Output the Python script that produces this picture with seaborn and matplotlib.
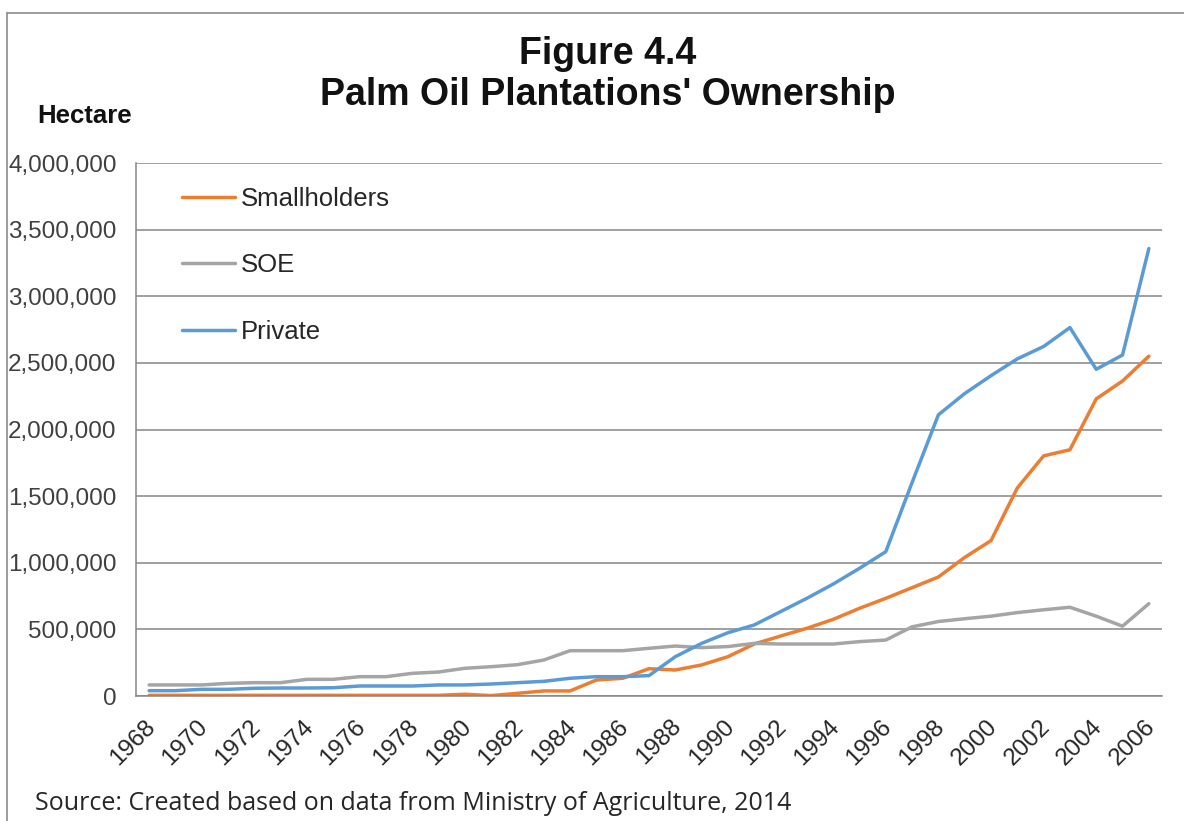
import matplotlib
matplotlib.use("Agg")
import matplotlib.pyplot as plt
import matplotlib.ticker as mticker
import matplotlib.transforms as mtransforms
from matplotlib.lines import Line2D
import seaborn as sns
import pandas as pd

# data (hectare)
years = list(range(1968, 2007))
smallholders = [5000, 5000, 5000, 5000, 5000, 5000, 5000, 5000, 5000, 5000,
                5000, 5000, 13000, 3000, 20000, 38000, 38000, 120000, 133000, 205000,
                195000, 233000, 295000, 390000, 450000, 508000, 575000, 658000, 733000, 813000,
                893000, 1040000, 1166000, 1561000, 1802000, 1848000, 2230000, 2364000, 2550000]
soe = [83000, 83000, 83000, 95000, 100000, 100000, 125000, 125000, 145000, 145000,
       170000, 180000, 208000, 220000, 235000, 270000, 340000, 340000, 340000, 358000,
       375000, 363000, 371000, 395000, 390000, 390000, 390000, 408000, 420000, 519000,
       559000, 580000, 599000, 626000, 647000, 666000, 599000, 524000, 693000]
private = [40000, 40000, 50000, 50000, 58000, 60000, 60000, 62000, 75000, 75000,
           75000, 83000, 83000, 90000, 100000, 110000, 133000, 145000, 145000, 153000,
           295000, 395000, 475000, 533000, 633000, 733000, 840000, 958000, 1083000, 1602000,
           2110000, 2270000, 2404000, 2530000, 2623000, 2765000, 2452000, 2559000, 3358000]

series_names = ["Smallholders", "SOE", "Private"]
series_colors = ["#ED7D31", "#A5A5A5", "#5B9BD5"]

rows = []
for name, vals in zip(series_names, [smallholders, soe, private]):
    for i, (yr, v) in enumerate(zip(years, vals)):
        rows.append({"idx": i, "year": yr, "owner": name, "hectare": v})
df = pd.DataFrame(rows)

sns.set_style("white")
plt.rcParams["font.family"] = ["Liberation Sans", "DejaVu Sans"]

fig = plt.figure(figsize=(11.84, 8.21), dpi=100)
ax = fig.add_axes([136 / 1184, 1 - 696 / 821, 1026 / 1184, 533 / 821])

sns.lineplot(data=df, x="idx", y="hectare", hue="owner", hue_order=series_names,
             palette=series_colors, linewidth=2.5, ax=ax)

ax.set_xlim(-0.5, len(years) - 0.5)
ax.set_ylim(0, 4000000)
ax.yaxis.set_major_locator(mticker.MultipleLocator(500000))
ax.yaxis.set_major_formatter(mticker.FuncFormatter(lambda v, p: f"{int(v):,}"))
ax.grid(axis="y", color="#868686", linewidth=1.1)
ax.set_axisbelow(True)

# category ticks between years, labels every second year
ax.set_xticks([i + 0.5 for i in range(-1, len(years))], minor=True)
ax.set_xticks(list(range(0, len(years), 2)))
ax.set_xticklabels([str(y) for y in years[::2]], rotation=45, ha="right",
                   va="top", rotation_mode="anchor")
ax.tick_params(axis="x", which="major", length=0, labelsize=17.5, labelcolor="#262626", pad=14)
ax.tick_params(axis="x", which="minor", length=7, width=1, color="#868686", direction="out")
ax.tick_params(axis="y", length=6, width=1, color="#868686", direction="out",
               labelsize=17.5, labelcolor="#404040", pad=8)
shift = mtransforms.ScaledTranslation(-5 / 100, 0, fig.dpi_scale_trans)
for lbl in ax.get_xticklabels():
    lbl.set_transform(lbl.get_transform() + shift)

for side in ["top", "right"]:
    ax.spines[side].set_visible(False)
ax.spines["left"].set_color("#868686")
ax.spines["bottom"].set_color("#868686")
ax.spines["left"].set_linewidth(1.1)
ax.spines["bottom"].set_linewidth(1.1)

ax.set_xlabel("")
ax.set_ylabel("")

leg = ax.legend(loc="upper left", bbox_to_anchor=(0.045, 0.955), frameon=False,
                fontsize=18.5, handlelength=2.05, handletextpad=0.25, labelspacing=1.65,
                borderpad=0, borderaxespad=0)
for t in leg.get_texts():
    t.set_color("#262626")

fig.text(608 / 1184, 1 - 54 / 821, "Figure 4.4", ha="center", va="center",
         fontsize=27, fontweight="bold", color="#111111")
fig.text(608 / 1184, 1 - 95 / 821, "Palm Oil Plantations' Ownership", ha="center",
         va="center", fontsize=27, fontweight="bold", color="#111111")
fig.text(37 / 1184, 1 - 116 / 821, "Hectare", ha="left", va="center",
         fontsize=18.5, fontweight="bold", color="#111111")
fig.text(35 / 1184, 1 - 803 / 821, "Source: Created based on data from Ministry of Agriculture, 2014",
         ha="left", va="center", fontsize=18, color="#262626", family=["Open Sans", "DejaVu Sans"])

# outer frame (top and left edges visible in the reference)
fig.add_artist(Line2D([7 / 1184, 1], [1 - 13 / 821, 1 - 13 / 821], transform=fig.transFigure,
                      color="#8c8c8c", linewidth=1.2))
fig.add_artist(Line2D([7 / 1184, 7 / 1184], [0, 1 - 13 / 821], transform=fig.transFigure,
                      color="#8c8c8c", linewidth=1.2))

fig.savefig("out.png", dpi=100)
